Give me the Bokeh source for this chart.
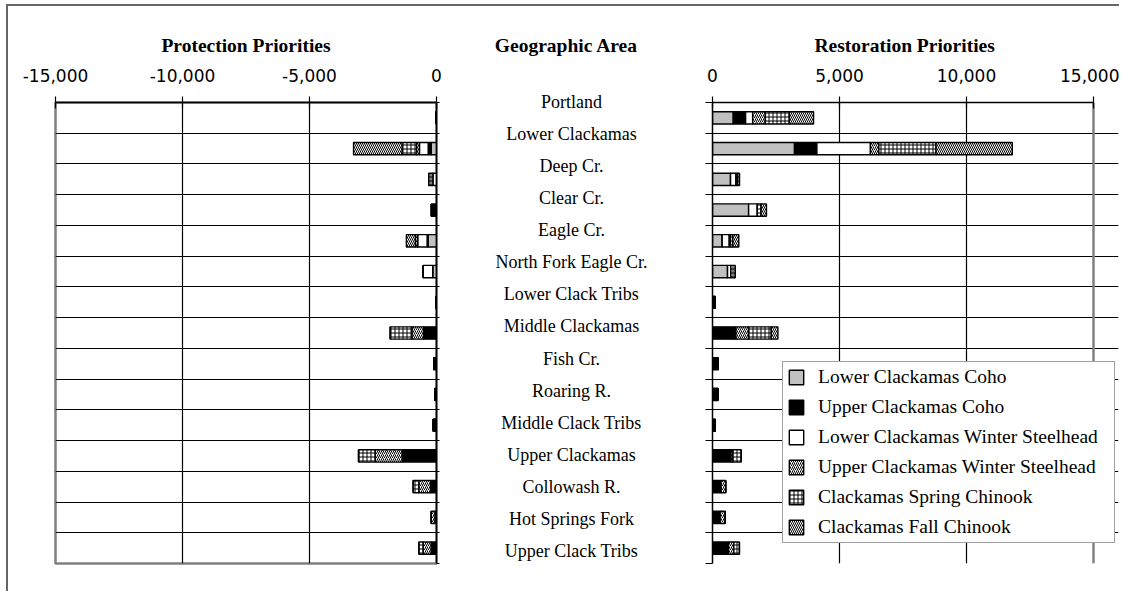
from bokeh.plotting import figure
from bokeh.layouts import row
from bokeh.models import (Range1d, FixedTicker, NumeralTickFormatter, ColumnDataSource,
                          Legend, LegendItem, Grid)
from bokeh.core.properties import value
from bokeh.embed import file_html
from bokeh.resources import INLINE

# ---------------- data ----------------
areas = ["Portland", "Lower Clackamas", "Deep Cr.", "Clear Cr.", "Eagle Cr.",
         "North Fork Eagle Cr.", "Lower Clack Tribs", "Middle Clackamas", "Fish Cr.",
         "Roaring R.", "Middle Clack Tribs", "Upper Clackamas", "Collowash R.",
         "Hot Springs Fork", "Upper Clack Tribs"]

species = ["Lower Clackamas Coho", "Upper Clackamas Coho",
           "Lower Clackamas Winter Steelhead", "Upper Clackamas Winter Steelhead",
           "Clackamas Spring Chinook", "Clackamas Fall Chinook"]

# Protection priorities (plotted to the left, negative)
prot_lower_coho     = [0, -210, 0, 0, -330, -150, -30, 0, 0, 0, 0, 0, 0, 0, 0]
prot_upper_coho     = [-20, -118, 0, -200, -40, 0, 0, -510, -110, -60, -130, -1357, -237, -60, -211]
prot_lower_wsteel   = [0, -343, -145, 0, -370, -380, 0, 0, 0, 0, 0, 0, 0, 0, 0]
prot_upper_wsteel   = [0, -118, 0, 0, -90, 0, 0, -460, 0, 0, 0, -1054, -461, -150, -316]
prot_spring_chinook = [0, -567, -160, 0, 0, 0, 0, -855, 0, 0, 0, -659, -224, 0, -171]
prot_fall_chinook   = [0, -1910, 0, 0, -356, 0, 0, 0, 0, 0, 0, 0, 0, 0, 0]

# Restoration priorities
rest_lower_coho     = [817, 3228, 711, 1423, 382, 593, 0, 0, 0, 0, 0, 0, 0, 0, 0]
rest_upper_coho     = [487, 882, 0, 0, 0, 0, 105, 920, 220, 210, 105, 730, 340, 303, 630]
rest_lower_wsteel   = [277, 2108, 211, 342, 277, 132, 0, 0, 0, 0, 0, 0, 0, 0, 0]
rest_upper_wsteel   = [500, 329, 60, 0, 50, 0, 0, 500, 0, 0, 0, 70, 180, 198, 210]
rest_spring_chinook = [949, 2253, 78, 150, 90, 170, 0, 895, 0, 0, 0, 330, 0, 0, 220]
rest_fall_chinook   = [949, 3004, 0, 210, 237, 0, 0, 260, 0, 0, 0, 0, 0, 0, 0]

prot_ticks = [-15000, -10000, -5000, 0]
rest_ticks = [0, 5000, 10000, 15000]

# ---------------- styles ----------------
keys = ["lc", "uc", "lws", "uws", "sc", "fc"]
fills = ["#c0c0c0", "#000000", "#ffffff", "#ffffff", "#ffffff", "#ffffff"]
hatches = [None, None, None, "/", "+", "\\"]
SERIF = "Liberation Serif"
SANS = "DejaVu Sans"
GRAY = "#808080"
n = len(areas)
row_pos = [i + 0.5 for i in range(n)]

TOP, BOTTOM, FRAME_W = 96, 28, 381
H = TOP + 461 + BOTTOM


def make_source(vals):
    d = {"y": row_pos}
    for k, v in zip(keys, vals):
        d[k] = v
    return ColumnDataSource(d)


def style_title(p, text, standoff):
    p.title.text = text
    p.title.align = "center"
    p.title.text_font = SERIF
    p.title.text_font_style = "bold"
    p.title.text_font_size = "19.5px"
    p.title.text_color = "black"
    p.title.standoff = standoff


def style_chart(p, ticks, title, inner_ticks, bounds):
    style_title(p, title, 19)
    xa = p.xaxis[0]
    xa.ticker = FixedTicker(ticks=ticks)
    xa.formatter = NumeralTickFormatter(format="0,0")
    xa.bounds = bounds
    xa.major_tick_in = 6
    xa.major_tick_out = 6
    xa.minor_tick_line_color = None
    xa.axis_line_color = "black"
    xa.axis_line_width = 1.5
    xa.major_tick_line_width = 1.2
    xa.major_label_text_font = SANS
    xa.major_label_text_font_size = "17px"
    xa.major_label_text_color = "black"
    xa.major_label_standoff = 15
    ya = p.yaxis[0]
    ya.ticker = FixedTicker(ticks=list(range(n + 1)))
    ya.major_label_text_font_size = "1px"
    ya.major_label_text_color = None
    ya.major_label_standoff = 0
    ya.minor_tick_line_color = None
    ya.major_tick_in = 0
    ya.axis_line_color = "black"
    ya.axis_line_width = 1.5
    p.xgrid.ticker = FixedTicker(ticks=inner_ticks)
    p.ygrid.ticker = FixedTicker(ticks=list(range(1, n)))
    p.ygrid.bounds = bounds
    p.xgrid.grid_line_color = "black"
    p.ygrid.grid_line_color = "black"
    p.xgrid.grid_line_width = 1.2
    p.ygrid.grid_line_width = 1.2
    p.background_fill_color = "white"
    p.border_fill_color = "white"


def draw_bars(p, src):
    return p.hbar_stack(keys, y="y", height=0.4, source=src,
                        fill_color=fills, line_color="black", line_width=1.4,
                        hatch_pattern=hatches, hatch_color="black",
                        hatch_scale=4, hatch_weight=1)


# left chart: protection
pl = figure(width=436, height=H, x_range=Range1d(-15000, 0), y_range=Range1d(n, 0),
            x_axis_location="above", y_axis_location="right",
            toolbar_location=None, output_backend="svg",
            min_border_left=47, min_border_right=8, min_border_top=TOP, min_border_bottom=BOTTOM)
style_chart(pl, prot_ticks, "Protection Priorities", prot_ticks[1:-1], (-15000, 0))
pl.yaxis[0].major_tick_out = 3
pl.outline_line_color = GRAY
pl.outline_line_width = 2.5
draw_bars(pl, make_source([prot_lower_coho, prot_upper_coho, prot_lower_wsteel,
                           prot_upper_wsteel, prot_spring_chinook, prot_fall_chinook]))

# middle: geographic area labels
pm = figure(width=254, height=H, x_range=Range1d(0, 1), y_range=Range1d(14.374, 0.031),
            toolbar_location=None, output_backend="svg", min_border=0,
            min_border_top=TOP, min_border_bottom=BOTTOM)
pm.axis.visible = False
pm.grid.visible = False
pm.outline_line_color = None
pm.border_fill_color = "white"
lab_src = ColumnDataSource({"x": [0.5] * n, "y": list(range(n)), "t": areas})
pm.text(x="x", y="y", text="t", source=lab_src, text_align="center",
        text_baseline="middle", text_font=value(SERIF), text_font_size="18px",
        text_color="black", level="overlay")
pm.text(x=[0.48], y=[-1.742], text=["Geographic Area"], text_align="center",
        text_baseline="middle", text_font=value(SERIF), text_font_size="19.5px",
        text_font_style="bold", text_color="black", level="overlay")

# right chart: restoration (frame extended to the right so the legend can overhang)
RIGHT_FRAME_W = 406
pr = figure(width=14 + RIGHT_FRAME_W + 1, height=H,
            x_range=Range1d(0, 15000 * RIGHT_FRAME_W / FRAME_W), y_range=Range1d(n, 0),
            x_axis_location="above", y_axis_location="left",
            toolbar_location=None, output_backend="svg",
            min_border_left=14, min_border_right=1, min_border_top=TOP, min_border_bottom=BOTTOM)
style_chart(pr, rest_ticks, "Restoration Priorities", rest_ticks[1:-1], (0, 15000))
pr.title.align = "left"
pr.title.offset = 102
pr.yaxis[0].major_tick_out = 7
pr.outline_line_color = None
pr.add_layout(Grid(dimension=0, ticker=FixedTicker(ticks=[rest_ticks[-1]]),
                   grid_line_color=GRAY, grid_line_width=2.5))
pr.add_layout(Grid(dimension=1, ticker=FixedTicker(ticks=[n]), bounds=(0, 15000),
                   grid_line_color=GRAY, grid_line_width=3))
rrs = draw_bars(pr, make_source([rest_lower_coho, rest_upper_coho, rest_lower_wsteel,
                                 rest_upper_wsteel, rest_spring_chinook, rest_fall_chinook]))

legend = Legend(items=[LegendItem(label=s, renderers=[r]) for s, r in zip(species, rrs)],
                location=(70, 20), padding=4, spacing=8, margin=0,
                glyph_width=18, glyph_height=18, label_height=14, label_width=292,
                label_standoff=13, label_text_font=SERIF, label_text_font_size="19.5px",
                label_text_color="black", border_line_color="#444444",
                border_line_width=1.5, background_fill_color="white",
                background_fill_alpha=1)
pr.add_layout(legend)

layout = row(pl, pm, pr, margin=(4, 0, 0, 6),
             styles={"border-left": "2px solid #666666", "border-top": "2px solid #666666"})

open("out.html", "w").write(file_html(layout, INLINE))
